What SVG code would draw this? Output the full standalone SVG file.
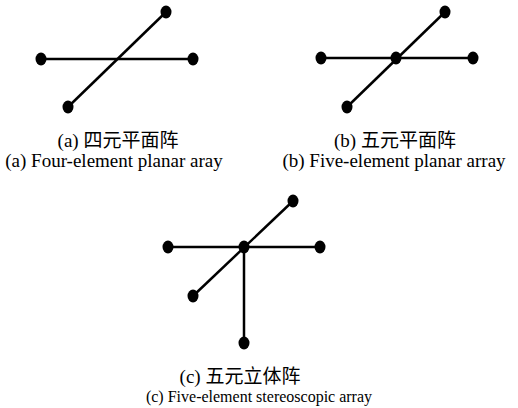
<svg xmlns="http://www.w3.org/2000/svg" width="518" height="408" viewBox="0 0 518 408">
<style>
.n{fill:#000}
.e{stroke:#000;stroke-width:2.5;fill:none}
.t{font-family:"Liberation Serif","Noto Sans CJK SC",serif;font-size:19px;fill:#000;text-anchor:middle}
.s{font-size:16px}
</style>
<rect width="518" height="408" fill="#fff"/>
<g id="connectors">
<line class="e" x1="41" y1="59" x2="193" y2="59"/>
<line class="e" x1="68" y1="107" x2="166" y2="12"/>
<line class="e" x1="321" y1="58" x2="473" y2="58"/>
<line class="e" x1="347" y1="107" x2="445" y2="12"/>
<line class="e" x1="168" y1="247" x2="320" y2="247"/>
<line class="e" x1="193" y1="296" x2="293" y2="201"/>
<line class="e" x1="244" y1="247" x2="244" y2="343"/>
</g>
<g id="a-left"><ellipse class="n" cx="41" cy="59" rx="5.5" ry="6.5"/></g>
<g id="a-right"><ellipse class="n" cx="193" cy="59" rx="5.5" ry="6.5"/></g>
<g id="a-top"><ellipse class="n" cx="166" cy="12" rx="5.5" ry="6.5"/></g>
<g id="a-bottom"><ellipse class="n" cx="68" cy="107" rx="5.5" ry="6.5"/></g>
<g id="b-left"><ellipse class="n" cx="321" cy="58" rx="5.5" ry="6.5"/></g>
<g id="b-right"><ellipse class="n" cx="473" cy="58" rx="5.5" ry="6.5"/></g>
<g id="b-center"><ellipse class="n" cx="396" cy="58" rx="5.5" ry="6.5"/></g>
<g id="b-top"><ellipse class="n" cx="445" cy="12" rx="5.5" ry="6.5"/></g>
<g id="b-bottom"><ellipse class="n" cx="347" cy="107" rx="5.5" ry="6.5"/></g>
<g id="c-left"><ellipse class="n" cx="168" cy="247" rx="5.5" ry="6.5"/></g>
<g id="c-right"><ellipse class="n" cx="320" cy="247" rx="5.5" ry="6.5"/></g>
<g id="c-center"><ellipse class="n" cx="244" cy="247" rx="5.5" ry="6.5"/></g>
<g id="c-top"><ellipse class="n" cx="293" cy="201" rx="5.5" ry="6.5"/></g>
<g id="c-bottomleft"><ellipse class="n" cx="193" cy="296" rx="5.5" ry="6.5"/></g>
<g id="c-bottom"><ellipse class="n" cx="244" cy="343" rx="5.5" ry="6.5"/></g>
<g id="captions">
<text class="t" x="118" y="147">(a) 四元平面阵</text>
<text class="t" x="114" y="167">(a) Four-element planar aray</text>
<text class="t" x="395" y="147">(b) 五元平面阵</text>
<text class="t" x="394" y="167">(b) Five-element planar array</text>
<text class="t" x="240" y="383">(c) 五元立体阵</text>
<text class="t s" x="259" y="402">(c) Five-element stereoscopic array</text>
</g>
</svg>
